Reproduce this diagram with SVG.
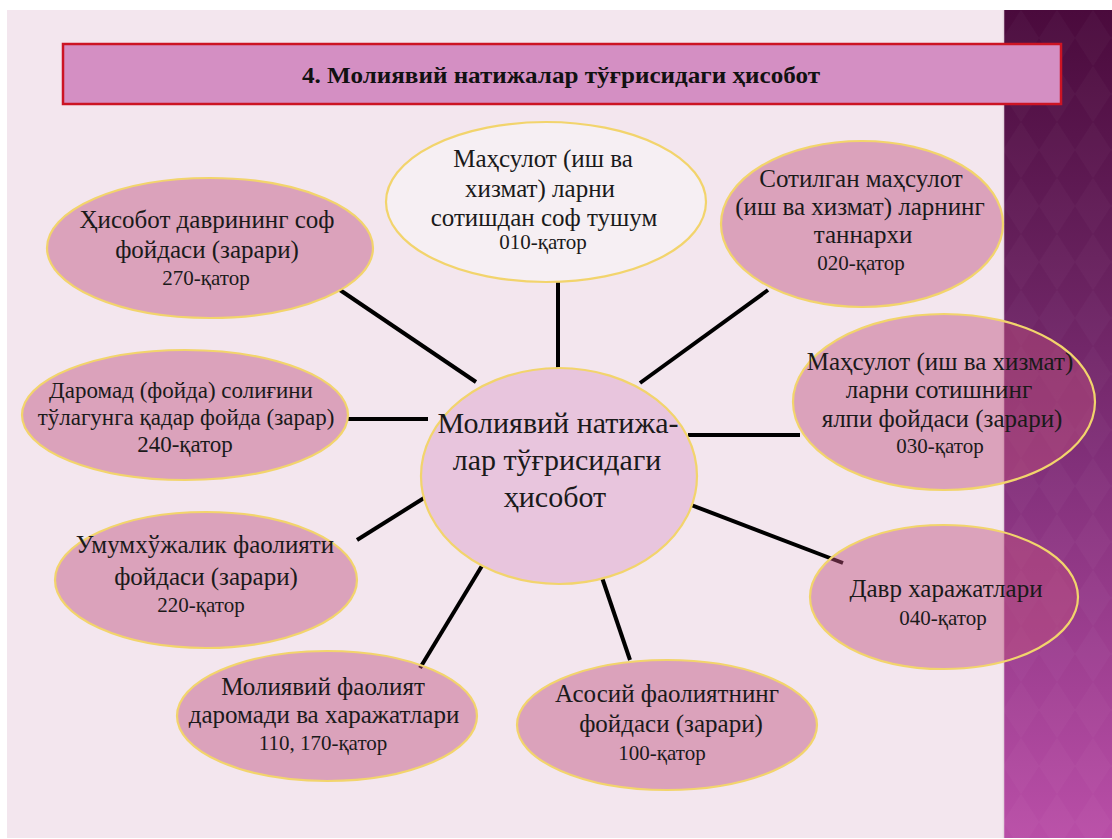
<svg xmlns="http://www.w3.org/2000/svg" width="1112" height="839" viewBox="0 0 1112 839">
<defs>
<linearGradient id="strip" x1="0" y1="0" x2="0" y2="1">
<stop offset="0" stop-color="#4a0a3c"/>
<stop offset="0.3" stop-color="#66205c"/>
<stop offset="0.55" stop-color="#82307a"/>
<stop offset="1" stop-color="#b94ea7"/>
</linearGradient>
<pattern id="diam" width="36" height="56" patternUnits="userSpaceOnUse" x="1003" y="10">
<path d="M18 0 L36 28 L18 56 L0 28 Z" fill="#ffffff" fill-opacity="0.025"/>
</pattern>
<style>
.ell{fill:rgb(190,80,125);fill-opacity:0.45;stroke:#f2d46c;stroke-width:2.2}
.t{font-family:"Liberation Serif","Times New Roman",serif;font-size:25px;fill:#1a1a1a;text-anchor:middle}
.s{font-family:"Liberation Serif","Times New Roman",serif;font-size:21px;fill:#1a1a1a;text-anchor:middle}
.m{font-family:"Liberation Serif","Times New Roman",serif;font-size:23px;fill:#1a1a1a;text-anchor:middle}
.c{font-family:"Liberation Serif","Times New Roman",serif;font-size:30px;fill:#1a1a1a;text-anchor:middle}
.conn{stroke:#000;stroke-width:4;fill:none}
</style>
</defs>
<rect x="0" y="0" width="1112" height="839" fill="#ffffff"/>
<rect x="7" y="10" width="996" height="828" fill="#f3e6ee"/>
<rect x="1003" y="10" width="109" height="828" fill="url(#strip)"/>
<rect x="1003" y="10" width="109" height="828" fill="url(#diam)"/>
<line x1="1003.5" y1="10" x2="1003.5" y2="838" stroke="#e6d6e0" stroke-width="1.5"/>

<g id="title">
<rect x="63" y="44" width="998" height="60" fill="#d48fc3" stroke="#cc1424" stroke-width="2.5"/>
<text x="561" y="83" font-family="Liberation Serif, Times New Roman, serif" font-size="24" font-weight="bold" fill="#111" text-anchor="middle" textLength="518" lengthAdjust="spacingAndGlyphs">4. Молиявий натижалар тўғрисидаги ҳисобот</text>
</g>

<g id="connectors">
<line class="conn" x1="558" y1="282" x2="558" y2="370"/>
<line class="conn" x1="768" y1="290" x2="640" y2="383"/>
<line class="conn" x1="688" y1="435" x2="800" y2="435"/>
<line class="conn" x1="686" y1="503" x2="843" y2="563"/>
<line class="conn" x1="593" y1="551" x2="630" y2="660"/>
<line class="conn" x1="494" y1="546" x2="420" y2="668"/>
<line class="conn" x1="432" y1="493" x2="357" y2="540"/>
<line class="conn" x1="347" y1="419" x2="428" y2="419"/>
<line class="conn" x1="340" y1="290" x2="476" y2="382"/>
</g>

<g id="node-010">
<ellipse cx="546" cy="202" rx="160" ry="80" fill="#f6eff3" stroke="#f2d46c" stroke-width="2.2"/>
<text class="t" x="543" y="167">Маҳсулот (иш ва</text>
<text class="t" x="540" y="197">хизмат) ларни</text>
<text class="t" x="544" y="226">сотишдан соф тушум</text>
<text class="s" x="543" y="249">010-қатор</text>
</g>

<g id="node-020">
<ellipse class="ell" cx="862" cy="224" rx="141" ry="83"/>
<text class="t" x="861" y="187">Сотилган маҳсулот</text>
<text class="t" x="860" y="215">(иш ва хизмат) ларнинг</text>
<text class="t" x="863" y="243">таннархи</text>
<text class="s" x="861" y="270">020-қатор</text>
</g>

<g id="node-030">
<ellipse class="ell" cx="944" cy="402" rx="151" ry="88"/>
<text class="t" x="940" y="370">Маҳсулот (иш ва хизмат)</text>
<text class="t" x="939" y="398">ларни сотишнинг</text>
<text class="t" x="942" y="427">ялпи фойдаси (зарари)</text>
<text class="s" x="940" y="453">030-қатор</text>
</g>

<g id="node-040">
<ellipse class="ell" cx="944" cy="597" rx="134" ry="72"/>
<text class="t" x="946" y="597">Давр харажатлари</text>
<text class="s" x="943" y="625">040-қатор</text>
</g>

<g id="node-100">
<ellipse class="ell" cx="667" cy="725" rx="150" ry="65"/>
<text class="t" x="667" y="702">Асосий фаолиятнинг</text>
<text class="t" x="671" y="732">фойдаси (зарари)</text>
<text class="s" x="662" y="760">100-қатор</text>
</g>

<g id="node-110">
<ellipse class="ell" cx="327" cy="716" rx="150" ry="65"/>
<text class="t" x="323" y="695">Молиявий фаолият</text>
<text class="t" x="324" y="723">даромади ва харажатлари</text>
<text class="s" x="323" y="750">110, 170-қатор</text>
</g>

<g id="node-220">
<ellipse class="ell" cx="206" cy="580" rx="151" ry="68"/>
<text class="t" x="205" y="553">Умумхўжалик фаолияти</text>
<text class="t" x="206" y="585">фойдаси (зарари)</text>
<text class="s" x="201" y="612">220-қатор</text>
</g>

<g id="node-240">
<ellipse class="ell" cx="185" cy="415" rx="163" ry="65"/>
<text class="m" x="181" y="398">Даромад (фойда) солиғини</text>
<text class="m" x="186" y="425">тўлагунга қадар фойда (зарар)</text>
<text class="m" x="185" y="452">240-қатор</text>
</g>

<g id="node-270">
<ellipse class="ell" cx="210" cy="248" rx="163" ry="70"/>
<text class="t" x="207" y="228">Ҳисобот даврининг соф</text>
<text class="t" x="207" y="258">фойдаси (зарари)</text>
<text class="s" x="206" y="285">270-қатор</text>
</g>

<g id="node-center">
<ellipse cx="559" cy="476" rx="138" ry="108" fill="#e8c5dd" stroke="#f2d46c" stroke-width="2.2"/>
<text class="c" x="558" y="433">Молиявий натижа-</text>
<text class="c" x="557" y="470">лар тўғрисидаги</text>
<text class="c" x="555" y="507">ҳисобот</text>
</g>
</svg>
